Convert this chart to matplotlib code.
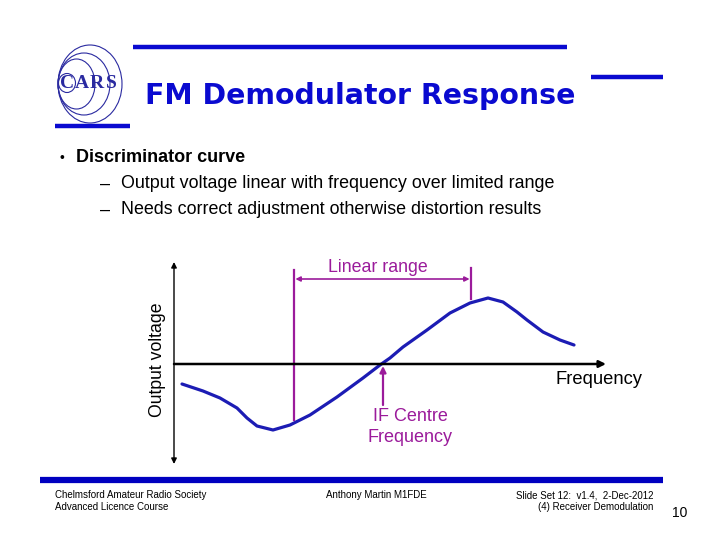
import matplotlib
matplotlib.use('Agg')
import matplotlib.pyplot as plt
from matplotlib.patches import Ellipse

# кривая дискриминатора (координаты слайда, пиксели)
curve_x = [182, 203, 220, 237, 247, 257, 273, 290, 310, 337, 363, 380, 390,
           403, 427, 450, 470, 488, 503, 517, 527, 543, 560, 574]
curve_y = [384, 391, 398, 408, 418, 426, 430, 425, 415, 397, 378, 365, 358,
           347, 330, 313, 303, 298, 302, 312, 320, 332, 340, 345]

axis_y = 364          # ось частоты
axis_x = 174          # ось напряжения
lin_left, lin_right = 294, 471
if_centre = 383

logo_letters = ['C', 'A', 'R', 'S']
bullet_main = 'Discriminator curve'
bullet_sub = ['Output voltage linear with frequency over limited range',
              'Needs correct adjustment otherwise distortion results']
footer_left = ['Chelmsford Amateur Radio Society', 'Advanced Licence Course']
footer_mid = 'Anthony Martin M1FDE'
footer_right = ['Slide Set 12:  v1.4,  2-Dec-2012', '(4) Receiver Demodulation']
page_no = '10'

blue = '#0a0ad0'
curve_col = '#1c1cb4'
purple = '#9b1b9b'
logo_col = '#2a2aa0'

plt.rcParams['font.family'] = ['Liberation Sans', 'DejaVu Sans']

fig = plt.figure(figsize=(7.2, 5.4), dpi=100)
ax = fig.add_axes([0, 0, 1, 1])
ax.set_xlim(0, 720)
ax.set_ylim(540, 0)
ax.axis('off')

# полосы оформления
ax.plot([133, 567], [47, 47], color=blue, lw=3.2, solid_capstyle='butt')
ax.plot([591, 663], [77, 77], color=blue, lw=3.2, solid_capstyle='butt')
ax.plot([55, 130], [126, 126], color=blue, lw=3.2, solid_capstyle='butt')
ax.plot([40, 663], [480, 480], color='#0000c0', lw=4.5, solid_capstyle='butt')

# логотип
for w, h in [(64, 78), (52, 62), (37, 50)]:
    ax.add_patch(Ellipse((58 + w / 2, 84), w, h, fill=False, ec=logo_col,
                         lw=0.8))
ax.add_patch(Ellipse((67, 83), 17, 19, fill=False, ec=logo_col, lw=0.8))
for i, ch in enumerate(logo_letters):
    ax.text(67 + 14.7 * i, 83, ch, family='Liberation Serif', fontsize=14,
            fontweight='bold', color=logo_col, ha='center', va='center')

ax.text(145, 96, 'FM Demodulator Response', family='DejaVu Sans',
        fontweight='bold', fontsize=20.4, color=blue, va='center', ha='left')

# текст пунктов
ax.text(60, 158, '•', fontsize=10, va='center')
ax.text(76, 158, bullet_main, fontsize=13, fontweight='bold', va='center')
for i, s in enumerate(bullet_sub):
    ax.text(100, 184 + 26 * i, '–', fontsize=13, va='center')
    ax.text(121, 184 + 26 * i, s, fontsize=12.9, va='center')

# оси графика
ax.annotate('', xy=(606, axis_y), xytext=(axis_x, axis_y),
            arrowprops=dict(arrowstyle='-|>', color='black', lw=1.8,
                            mutation_scale=10, shrinkA=0, shrinkB=0))
ax.annotate('', xy=(axis_x, 262), xytext=(axis_x, 464),
            arrowprops=dict(arrowstyle='<|-|>', color='black', lw=1.0,
                            mutation_scale=8, shrinkA=0, shrinkB=0))
ax.text(599, 380, 'Frequency', fontsize=13.2, ha='center', va='center')
ax.text(158, 360, 'Output voltage', fontsize=12.7, rotation=90,
        ha='center', va='center')

# кривая
ax.plot(curve_x, curve_y, color=curve_col, lw=2.3, solid_capstyle='round',
        solid_joinstyle='round')

# линейный участок
ax.plot([lin_left, lin_left], [270, 420], color=purple, lw=1.6)
ax.plot([lin_right, lin_right], [268, 299], color=purple, lw=1.6)
ax.annotate('', xy=(lin_left, 279), xytext=(lin_right, 279),
            arrowprops=dict(arrowstyle='<|-|>', color=purple, lw=1.2,
                            mutation_scale=7, shrinkA=1, shrinkB=1))
ax.text(378, 267, 'Linear range', fontsize=12.8, color=purple,
        ha='center', va='center')

# центральная частота ПЧ
ax.annotate('', xy=(if_centre, 366), xytext=(if_centre, 405),
            arrowprops=dict(arrowstyle='-|>', color=purple, lw=1.6,
                            mutation_scale=9, shrinkA=0, shrinkB=0))
ax.text(410, 427, 'IF Centre\nFrequency', fontsize=13, color=purple,
        ha='center', va='center', linespacing=1.3)

# подвал
ax.text(55, 495, footer_left[0], fontsize=7, va='center')
ax.text(55, 507, footer_left[1], fontsize=7, va='center')
ax.text(326, 495, footer_mid, fontsize=7, va='center')
ax.text(653, 495, footer_right[0], fontsize=7, va='center', ha='right')
ax.text(653, 507, footer_right[1], fontsize=7, va='center', ha='right')
ax.text(680, 513, page_no, fontsize=10, va='center', ha='center')

fig.savefig('out.png', dpi=100, facecolor='white')
